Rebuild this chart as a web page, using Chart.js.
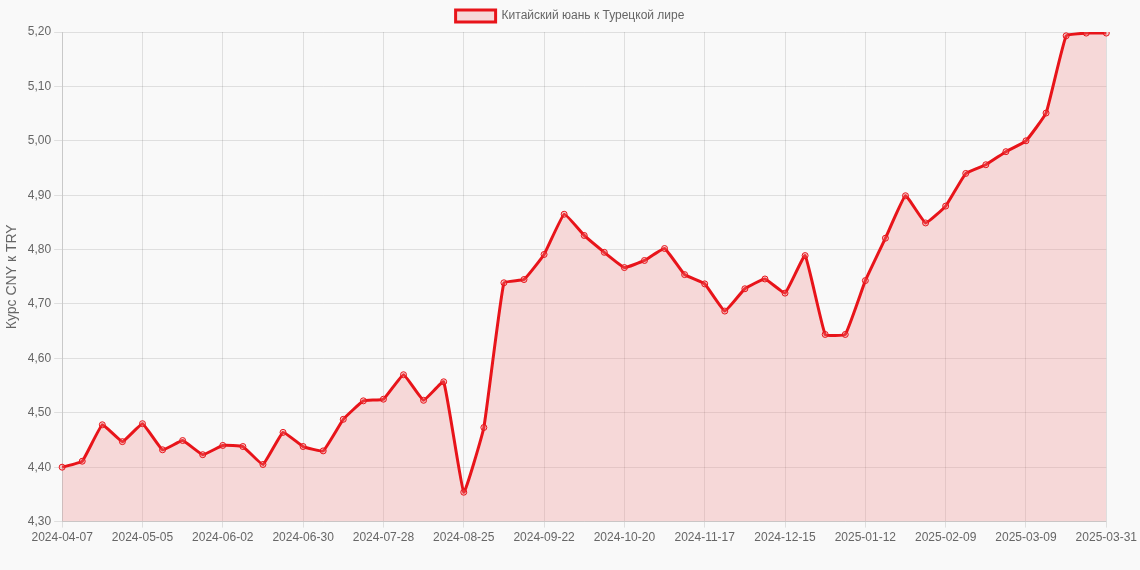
<!DOCTYPE html>
<html>
<head>
<script src="https://cdn.jsdelivr.net/npm/chart.js"></script>
<style>
  body { margin:0; padding:0; background:#f9f9f9 }
  #wrap { width:1140px; height:570px }
</style>
</head>
<body>
<div id="wrap"><canvas id="c"></canvas></div>
<script>
// weekly dates, every 4th shown on the axis
const dates = [
  '2024-04-07','2024-04-14','2024-04-21','2024-04-28','2024-05-05','2024-05-12','2024-05-19','2024-05-26',
  '2024-06-02','2024-06-09','2024-06-16','2024-06-23','2024-06-30','2024-07-07','2024-07-14','2024-07-21',
  '2024-07-28','2024-08-04','2024-08-11','2024-08-18','2024-08-25','2024-09-01','2024-09-08','2024-09-15',
  '2024-09-22','2024-09-29','2024-10-06','2024-10-13','2024-10-20','2024-10-27','2024-11-03','2024-11-10',
  '2024-11-17','2024-11-24','2024-12-01','2024-12-08','2024-12-15','2024-12-22','2024-12-29','2025-01-05',
  '2025-01-12','2025-01-19','2025-01-26','2025-02-02','2025-02-09','2025-02-16','2025-02-23','2025-03-02',
  '2025-03-09','2025-03-16','2025-03-23','2025-03-30','2025-03-31'
];
const rates = [
  4.400, 4.411, 4.478, 4.447, 4.480, 4.432, 4.449, 4.423, 4.440, 4.438,
  4.405, 4.464, 4.438, 4.430, 4.488, 4.522, 4.525, 4.570, 4.523, 4.557,
  4.354, 4.473, 4.739, 4.745, 4.791, 4.865, 4.826, 4.795, 4.767, 4.780,
  4.802, 4.754, 4.737, 4.687, 4.728, 4.746, 4.720, 4.789, 4.644, 4.644,
  4.743, 4.821, 4.899, 4.849, 4.880, 4.940, 4.956, 4.980, 5.000, 5.051,
  5.193, 5.198, 5.198
];
const seriesName = 'Китайский юань к Турецкой лире';
const yTitle = 'Курс CNY к TRY';

Chart.defaults.font.family = '"Liberation Sans", Arial, sans-serif';
Chart.defaults.color = '#666';

new Chart(document.getElementById('c'), {
  type: 'line',
  data: {
    labels: dates,
    datasets: [{
      label: seriesName,
      data: rates,
      borderColor: '#e8141a',
      backgroundColor: 'rgba(240,120,120,0.25)',
      pointBackgroundColor: 'rgba(240,120,120,0.3)',
      pointBorderColor: '#e8141a',
      pointBorderWidth: 1,
      pointRadius: 3,
      borderWidth: 3,
      fill: true,
      tension: 0.1
    }]
  },
  options: {
    responsive: true,
    maintainAspectRatio: false,
    animation: false,
    layout: { padding: { bottom: 22 } },
    plugins: {
      legend: { labels: { boxWidth: 40 } }
    },
    scales: {
      x: {
        ticks: { maxRotation: 0, autoSkip: false,
          callback: (v, i) => i % 4 === 0 ? dates[i] : '' },
        grid: { color: c => c.index % 4 === 0 ? 'rgba(0,0,0,0.1)' : 'rgba(0,0,0,0)',
                tickLength: 6 }
      },
      y: {
        min: 4.3, max: 5.2,
        title: { display: true, text: yTitle, font: { size: 14 } },
        ticks: { stepSize: 0.1, callback: v => v.toFixed(2).replace('.', ',') },
        grid: { color: 'rgba(0,0,0,0.1)' }
      }
    }
  }
});
</script>
</body>
</html>
